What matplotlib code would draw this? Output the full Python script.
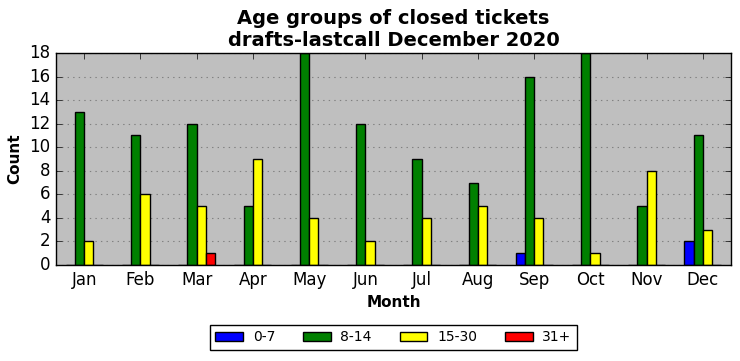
import matplotlib
matplotlib.use("Agg")
import matplotlib.pyplot as plt
import numpy as np

plt.style.use("classic")

months = ["Jan", "Feb", "Mar", "Apr", "May", "Jun", "Jul", "Aug", "Sep", "Oct", "Nov", "Dec"]
series_names = ["0-7", "8-14", "15-30", "31+"]
s_0_7 = [0, 0, 0, 0, 0, 0, 0, 0, 1, 0, 0, 2]
s_8_14 = [13, 11, 12, 5, 18, 12, 9, 7, 16, 18, 5, 11]
s_15_30 = [2, 6, 5, 9, 4, 2, 4, 5, 4, 1, 8, 3]
s_31p = [0, 0, 1, 0, 0, 0, 0, 0, 0, 0, 0, 0]
colors = ["blue", "green", "yellow", "red"]

fig = plt.figure(figsize=(7.4, 3.61), dpi=100, facecolor="white")
ax = fig.add_axes([0.0757, 0.266, 0.9121, 0.587])
ax.set_facecolor("#bfbfbf")

x = np.arange(len(months))
w = 0.165
data = [s_0_7, s_8_14, s_15_30, s_31p]
for i, (vals, c, name) in enumerate(zip(data, colors, series_names)):
    ax.bar(x + (i - 1.5) * w, vals, w, align="center",
           color=c, edgecolor="black", linewidth=1, label=name)

ax.set_xlim(-0.5, 11.5)
ax.set_ylim(0, 18)
ax.set_yticks(range(0, 19, 2))
ax.set_xticks(x)
ax.set_xticklabels(months)
ax.tick_params(labelsize=12)
ax.yaxis.grid(True, linestyle=":", color="#808080", linewidth=0.8)
ax.set_axisbelow(True)

ax.set_xlabel("Month", fontsize=11, fontweight="bold")
ax.set_ylabel("Count", fontsize=11, fontweight="bold")
ax.set_title("Age groups of closed tickets\ndrafts-lastcall December 2020",
             fontsize=14, fontweight="bold", linespacing=1.2)

ax.legend(loc="upper center", bbox_to_anchor=(0.5, -0.25), ncol=4,
          fontsize=10, frameon=True, fancybox=False, numpoints=1,
          handlelength=2.0, columnspacing=2.0, handletextpad=0.7)

fig.savefig("out.png", dpi=100, facecolor="white")
